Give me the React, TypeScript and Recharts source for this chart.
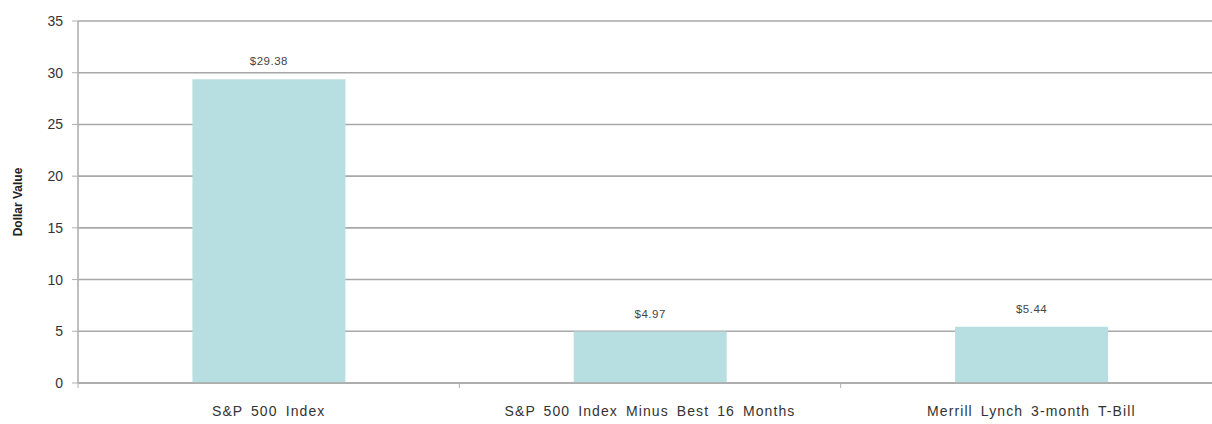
import { Bar, BarChart, CartesianGrid, LabelList, XAxis, YAxis } from "recharts";

const categories = [
  "S&P 500 Index",
  "S&P 500 Index Minus Best 16 Months",
  "Merrill Lynch 3-month T-Bill",
];
const dollarValues = [29.38, 4.97, 5.44];
const yTicks = [0, 5, 10, 15, 20, 25, 30, 35];

const data = categories.map((name, i) => ({ name, value: dollarValues[i] }));

const font = "'Liberation Sans', Arial, sans-serif";

function CategoryTick(props: any) {
  const { x, y, payload, index, width, visibleTicksCount } = props;
  const bw = width / visibleTicksCount;
  return (
    <g>
      {index === 0 && (
        <line x1={x - bw / 2} x2={x - bw / 2} y1={y - 8} y2={y - 3} stroke="#b0b0b0" />
      )}
      <line x1={x + bw / 2} x2={x + bw / 2} y1={y - 8} y2={y - 3} stroke="#b0b0b0" />
      <text
        x={x}
        y={y + 25}
        textAnchor="middle"
        fontSize={14}
        letterSpacing={1.1}
        wordSpacing={3}
        fill="#333"
        fontFamily={font}
      >
        {payload.value}
      </text>
    </g>
  );
}

export default function App() {
  return (
    <div
      style={{
        position: "absolute",
        left: 0,
        top: 0,
        width: 1212,
        height: 424,
        overflow: "hidden",
        background: "#fff",
      }}
    >
      <BarChart
        width={1222}
        height={424}
        data={data}
        margin={{ top: 21, right: 0, bottom: 8, left: 0 }}
        barCategoryGap="30%"
      >
        <CartesianGrid vertical={false} stroke="#a8a8a8" strokeWidth={1.6} />
        <XAxis
          dataKey="name"
          height={33}
          axisLine={{ stroke: "#a8a8a8", strokeWidth: 1.6 }}
          tickLine={false}
          tick={<CategoryTick />}
          interval={0}
        />
        <YAxis
          width={78}
          domain={[0, 35]}
          ticks={yTicks}
          interval={0}
          axisLine={{ stroke: "#b0b0b0", strokeWidth: 1.6 }}
          tickLine={{ stroke: "#b0b0b0" }}
          tickSize={6}
          tickMargin={9}
          tick={{ fontSize: 14, fill: "#333", fontFamily: font }}
          label={{
            value: "Dollar Value",
            angle: -90,
            position: "insideLeft",
            offset: 18,
            style: {
              textAnchor: "middle",
              fontSize: 12,
              fontWeight: "bold",
              fill: "#222",
              fontFamily: font,
            },
          }}
        />
        <Bar dataKey="value" fill="#b7dfe1" isAnimationActive={false}>
          <LabelList
            dataKey="value"
            position="top"
            offset={14}
            formatter={(v: number) => `$${v.toFixed(2)}`}
            style={{ fontSize: 11.5, fill: "#444", fontFamily: font, letterSpacing: 0.5 }}
          />
        </Bar>
      </BarChart>
    </div>
  );
}
